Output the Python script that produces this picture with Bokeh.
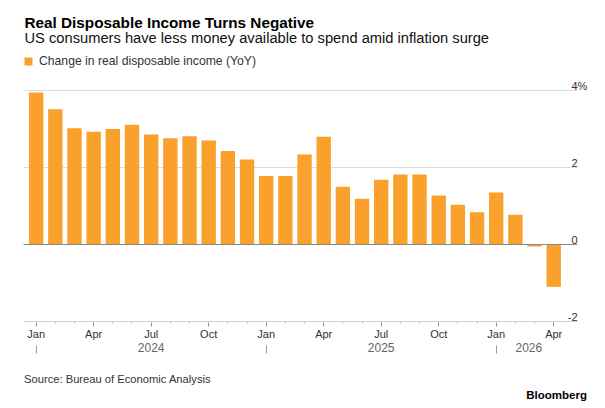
from bokeh.plotting import figure
from bokeh.models import (ColumnDataSource, FixedTicker, LinearAxis, Label,
                          Range1d, Legend, LegendItem, Grid)
from bokeh.embed import file_html
from bokeh.resources import INLINE

# --- data -------------------------------------------------------------------
periods = ["2024-01", "2024-02", "2024-03", "2024-04", "2024-05", "2024-06",
           "2024-07", "2024-08", "2024-09", "2024-10", "2024-11", "2024-12",
           "2025-01", "2025-02", "2025-03", "2025-04", "2025-05", "2025-06",
           "2025-07", "2025-08", "2025-09", "2025-10", "2025-11", "2025-12",
           "2026-01", "2026-02", "2026-03", "2026-04"]
income_yoy = [3.95, 3.51, 3.02, 2.93, 3.00, 3.11, 2.86, 2.76, 2.81, 2.70, 2.43, 2.21,
              1.78, 1.78, 2.34, 2.80, 1.50, 1.19, 1.68, 1.82, 1.82, 1.27, 1.03, 0.84,
              1.35, 0.77, -0.05, -1.10]
quarter_names = ["Jan", "Apr", "Jul", "Oct"]
years = ["2024", "2025", "2026"]
year_label_pos = [6, 18, 25.7]          # month index where each year label sits
y_ticks = [4, 2, 0, -2]
y_tick_text = ["4%", "2", "0", "-2"]

month_idx = list(range(len(periods)))
quarter_ticks = [i for i, p in enumerate(periods) if int(p[5:]) in (1, 4, 7, 10)]
quarter_text = [quarter_names[(int(periods[i][5:]) - 1) // 3] for i in quarter_ticks]
year_starts = [i for i, p in enumerate(periods) if p.endswith("-01")]

# --- geometry ---------------------------------------------------------------
FONT = "Liberation Sans"
ORANGE = "#F9A12C"
W, H = 605, 408
# plotting area (bars, grid) in canvas pixels
PL, PR, PT, PB = 23, 577, 90, 321
X0, X1 = -0.66, 28.24
Y0, Y1 = -2, 4
SX = (PR - PL) / (X1 - X0)      # px per month
SY = (PB - PT) / (Y1 - Y0)      # px per percentage point


def px_x(px):
    return X0 + (px - PL) / SX


def px_y(py):
    return Y1 - (py - PT) / SY


src = ColumnDataSource(dict(idx=month_idx, val=income_yoy, period=periods))

# the canvas is one frame; axes are pinned at fixed locations inside it
p = figure(width=W, height=H,
           x_range=Range1d(px_x(0), px_x(W)), y_range=Range1d(px_y(H), px_y(0)),
           x_axis_type=None, y_axis_type=None, output_backend="svg",
           toolbar_location=None, min_border=0, outline_line_color=None,
           background_fill_color="white", border_fill_color="white")

has_cross = "cross_bounds" in Grid.properties()


def hgrid(ticks, color, level):
    if has_cross:
        p.add_layout(Grid(dimension=1, ticker=FixedTicker(ticks=ticks),
                          cross_bounds=(X0, X1), grid_line_color=color,
                          grid_line_width=1, level=level))
    else:
        p.segment(x0=[X0] * len(ticks), x1=[X1] * len(ticks), y0=ticks, y1=ticks,
                  line_color=color, line_width=1, level=level)


hgrid([2, 4], "#dcdcdc", "underlay")

bars = p.vbar(x="idx", top="val", bottom=0, width=0.75, source=src,
              fill_color=ORANGE, line_color=None)

hgrid([0], "#8a8a8a", "overlay")

# month axis along the bottom of the plotting area
month_axis = LinearAxis(
    fixed_location=Y0, bounds=(X0, X1),
    ticker=FixedTicker(ticks=quarter_ticks, minor_ticks=month_idx),
    major_label_overrides=dict(zip(quarter_ticks, quarter_text)),
    axis_line_color="#cfcfcf", major_tick_line_color="#8c8c8c",
    major_tick_in=0, major_tick_out=5,
    minor_tick_line_color="#bdbdbd", minor_tick_in=0, minor_tick_out=2,
    major_label_standoff=1, major_label_text_font=FONT,
    major_label_text_font_size="11px", major_label_text_color="#333333")
p.add_layout(month_axis, "below")

# year labels
year_axis = LinearAxis(
    fixed_location=px_y(340),
    ticker=FixedTicker(ticks=year_label_pos, minor_ticks=[]),
    major_label_overrides=dict(zip(year_label_pos, years)),
    axis_line_color=None, major_tick_line_color=None, minor_tick_line_color=None,
    major_tick_in=0, major_tick_out=0,
    major_label_standoff=2, major_label_text_font=FONT,
    major_label_text_font_size="12px", major_label_text_color="#666666")
p.add_layout(year_axis, "below")

# separators at each January
sep_axis = LinearAxis(
    fixed_location=px_y(345),
    ticker=FixedTicker(ticks=year_starts, minor_ticks=[]),
    major_label_overrides={t: "" for t in year_starts},
    axis_line_color=None, major_tick_line_color="#9a9a9a", minor_tick_line_color=None,
    major_tick_in=0, major_tick_out=8, major_label_text_font_size="1px")
p.add_layout(sep_axis, "below")

# value labels sitting above their gridlines at the right edge
digit_w = 0.556 * 11
for v, t in zip(y_ticks, y_tick_text):
    hang = t.endswith("%")
    p.add_layout(Label(x=X1, y=v, text=t, text_align="left" if hang else "right",
                       x_offset=-digit_w if hang else 0, y_offset=5,
                       text_baseline="alphabetic", text_font=FONT,
                       text_font_size="11px", text_color="#333333"))

legend = Legend(items=[LegendItem(label="Change in real disposable income (YoY)",
                                  renderers=[bars])],
                location=(23, H - 68.4), orientation="horizontal",
                glyph_width=10, glyph_height=10, label_standoff=6,
                label_height=10, label_text_font=FONT, label_text_font_size="12.2px",
                label_text_color="#333333", padding=0, margin=0, spacing=0,
                border_line_color=None, background_fill_alpha=0)
p.add_layout(legend, "center")

texts = [
    ("Real Disposable Income Turns Negative", 24, 21.5, "15.3px", "bold", "#000000", "left"),
    ("US consumers have less money available to spend amid inflation surge",
     24, 37.5, "14.7px", "normal", "#111111", "left"),
    ("Source: Bureau of Economic Analysis", 23.5, 378.5, "11.2px", "normal", "#333333", "left"),
    ("Bloomberg", 586.5, 394, "11.5px", "bold", "#000000", "right"),
]
for t, x, y, size, style, color, align in texts:
    p.add_layout(Label(x=px_x(x), y=px_y(y), text=t, text_align=align,
                       text_baseline="alphabetic", text_font=FONT,
                       text_font_size=size, text_font_style=style,
                       text_color=color))

open("out.html", "w").write(file_html(p, INLINE))
